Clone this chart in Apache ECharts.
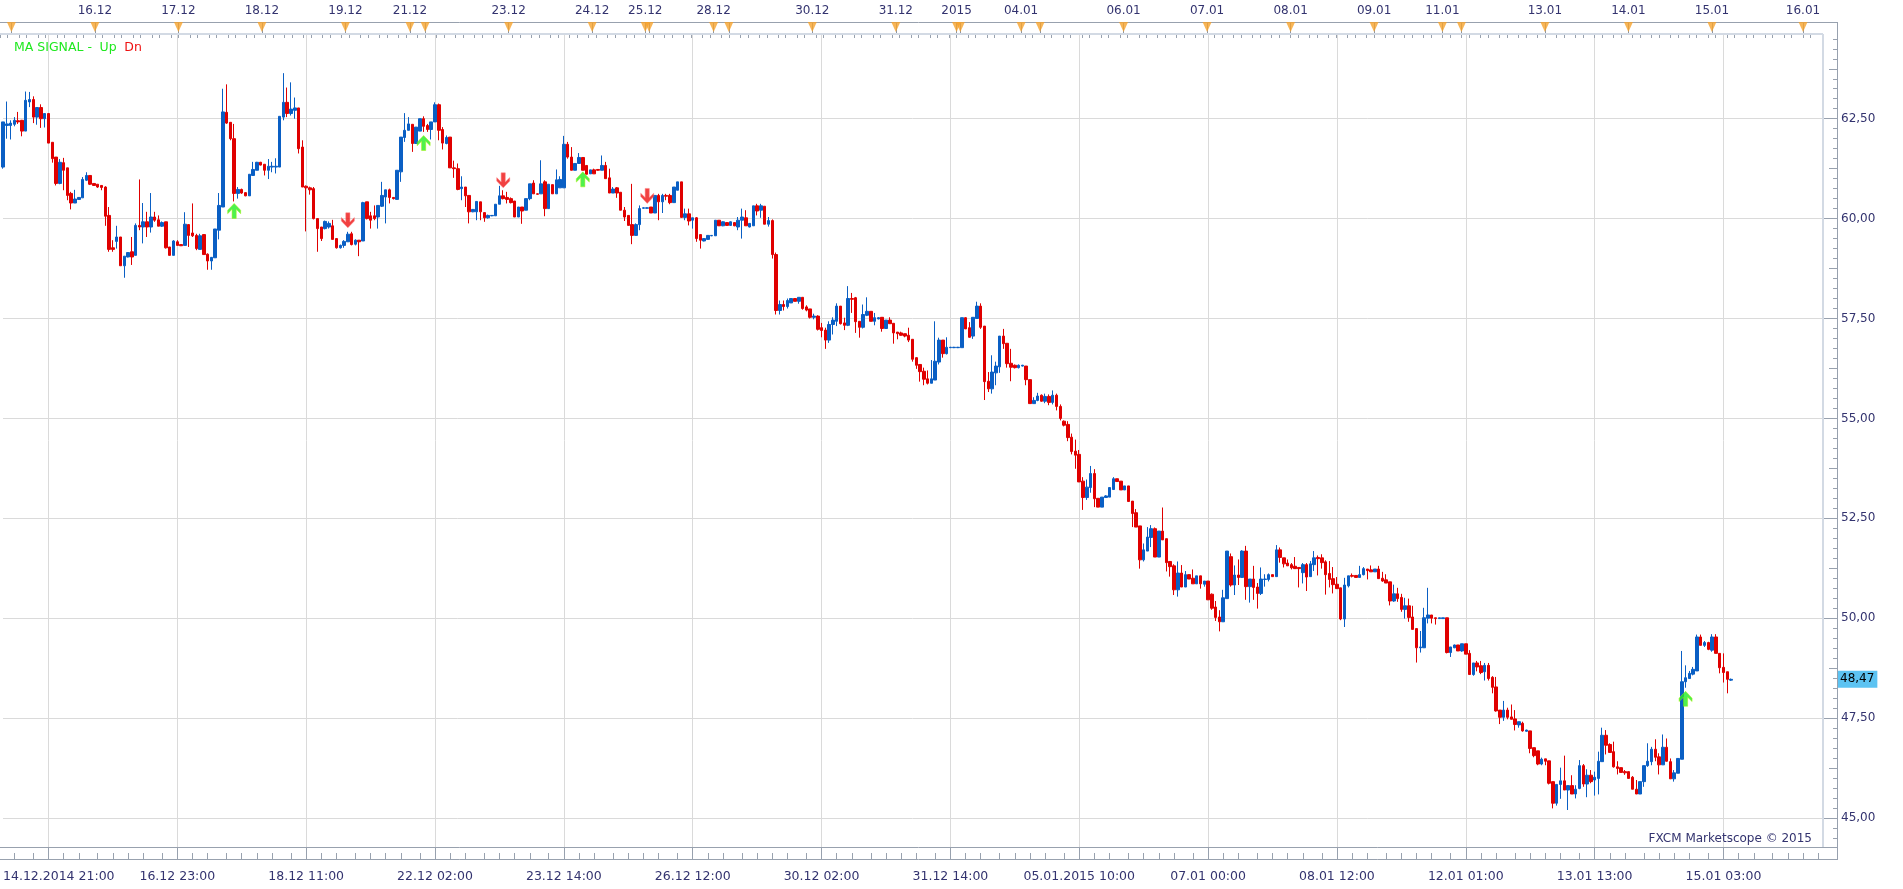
<!DOCTYPE html>
<html><head><meta charset="utf-8">
<script src="https://cdn.jsdelivr.net/npm/echarts@6/dist/echarts.min.js"></script>
<style>html,body{margin:0;padding:0;background:#fff;}#c{width:1903px;height:889px;}</style>
</head><body><div id="c"></div>
<script>
// ---- hourly bars ----
const OPEN = [
61.29,62.33,62.33,62.36,62.45,62.46,62.19,62.92,62.98,62.54,
62.78,62.5,62.63,61.91,61.54,60.88,61.40,61.27,60.63,60.39,
60.48,60.52,60.96,61.08,60.88,60.86,60.83,60.79,60.08,59.27,
59.43,59.54,58.82,59.04,59.17,59.08,59.83,59.79,59.92,59.79,
60.04,59.97,59.81,59.92,59.29,59.08,59.42,59.35,59.33,59.85,
59.64,59.58,59.23,59.6,59.11,58.94,59.02,59.71,60.29,62.66,
62.41,62.0,60.63,60.73,60.65,60.57,61.08,61.21,61.41,61.36,
61.21,61.29,61.29,61.29,62.54,62.91,62.63,62.71,62.77,61.79,
60.81,60.77,60.75,60.0,59.79,59.75,59.79,59.82,59.5,59.27,
59.33,59.42,59.62,59.36,59.46,59.44,60.42,60.07,60.07,60.04,
60.31,60.54,60.72,60.53,60.48,61.17,62.03,62.21,62.36,61.88,
62.19,62.5,62.33,62.23,62.42,62.85,62.23,61.88,62.04,61.27,
61.25,60.75,60.79,60.58,60.17,60.17,60.42,60.15,60.02,60.07,
60.07,60.36,60.57,60.53,60.5,60.44,60.04,60.29,60.21,60.5,
60.89,60.62,60.62,60.92,60.25,60.85,60.62,60.77,60.77,61.86,
61.54,61.21,61.38,61.53,61.33,61.12,61.22,61.23,61.21,61.33,
61.02,60.64,60.77,60.66,60.21,60.08,59.85,59.58,59.85,60.26,
60.26,60.29,60.14,60.58,60.42,60.58,60.58,60.4,60.71,60.92,
60.03,60.12,59.96,60.02,59.6,59.44,59.48,59.57,59.57,59.96,
59.82,59.9,59.83,59.9,59.79,59.96,60.02,59.79,59.82,60.32,
60.21,60.31,59.86,59.95,59.1,57.7,57.85,57.8,57.89,58.0,
57.93,58.03,57.79,57.74,57.53,57.56,57.27,57.21,56.96,57.35,
57.43,57.81,57.39,57.33,58.0,58.02,57.43,57.28,57.58,57.68,
57.43,57.49,57.53,57.25,57.46,57.38,57.16,57.14,57.12,57.08,
56.98,56.52,56.35,56.18,55.99,55.88,55.96,56.41,56.96,56.62,
56.77,56.77,56.77,56.77,57.52,57.27,57.06,57.5,57.81,57.31,
55.93,55.74,56.14,56.29,57.06,56.88,56.38,56.33,56.27,56.31,
56.31,55.97,55.37,55.45,55.58,55.43,55.55,55.4,55.58,55.3,
54.93,54.85,54.53,54.18,54.1,53.43,53.02,53.27,53.62,53.0,
52.78,53.02,53.03,53.22,53.49,53.43,53.21,53.31,52.93,52.64,
52.31,51.46,51.68,52.02,52.24,51.53,52.18,51.99,51.42,51.31,
50.71,51.13,50.78,51.09,51.0,50.86,51.06,50.85,50.93,50.6,
50.28,50.03,49.91,50.49,51.54,50.83,51.08,51.02,51.68,50.79,
50.98,50.78,50.62,50.97,50.97,51.09,51.04,51.71,51.51,51.38,
51.34,51.30,51.27,51.14,51.34,51.04,51.34,51.52,51.51,51.41,
51.12,50.99,50.85,50.76,49.98,50.81,51.07,51.07,51.02,51.09,
51.23,51.21,51.16,51.23,51.0,50.96,50.91,50.43,50.61,50.52,
50.22,50.31,50.03,49.74,49.26,49.26,50.0,50.08,50.01,49.99,
49.99,50.01,49.14,49.26,49.33,49.18,49.36,49.12,48.59,48.88,
48.81,48.66,48.82,48.52,48.28,47.7,47.52,47.7,47.53,47.48,
47.33,47.37,47.17,47.18,46.76,46.68,46.35,46.48,46.43,45.91,
45.37,45.84,45.93,45.7,45.81,45.6,45.74,46.31,45.85,46.07,
45.95,45.99,46.41,47.07,46.84,46.66,46.28,46.26,46.16,46.16,
46.02,45.72,45.6,45.91,46.31,46.41,46.72,46.53,46.33,46.77,
46.41,45.98,46.12,46.47,48.41,48.49,48.6,48.68,49.53,49.32,
49.39,49.2,49.53,49.12,48.77,48.66,48.45];
const CLOSE = [
62.42,62.37,62.39,62.46,62.42,62.19,62.96,62.98,62.54,62.78,
62.5,62.63,61.89,61.5,60.88,61.41,61.21,60.58,60.39,60.49,
60.53,60.98,61.08,60.86,60.83,60.79,60.78,60.06,59.23,59.23,
59.54,58.82,59.06,59.15,59.04,59.83,59.79,59.92,59.79,60.04,
59.96,59.81,59.9,59.27,59.08,59.44,59.33,59.32,59.86,59.58,
59.57,59.25,59.57,59.10,58.94,59.03,59.74,60.33,62.67,62.39,
62.0,60.63,60.73,60.64,60.57,61.11,61.23,61.41,61.34,61.21,
61.31,61.31,61.31,62.56,62.91,62.63,62.74,62.77,61.75,60.79,
60.77,60.72,60.0,59.75,59.5,59.93,59.88,59.48,59.27,59.33,
59.43,59.61,59.35,59.46,59.42,60.40,60.0,59.96,60.0,60.33,
60.58,60.72,60.53,60.5,61.21,62.04,62.21,62.37,61.88,62.29,
62.5,62.31,62.23,62.42,62.85,62.21,61.89,62.03,61.27,61.25,
60.73,60.79,60.57,60.17,60.23,60.43,60.17,60.02,60.08,60.08,
60.36,60.57,60.5,60.48,60.4,60.04,60.29,60.19,60.5,60.87,
60.62,60.61,60.87,60.25,60.86,60.62,60.97,60.98,61.86,61.54,
61.21,61.38,61.53,61.21,61.11,61.22,61.12,61.21,61.33,61.0,
60.64,60.74,60.64,60.21,60.04,59.83,59.58,59.85,60.25,60.27,
60.27,60.14,60.58,60.42,60.58,60.56,60.4,60.79,60.92,60.03,
60.12,59.94,60.02,59.5,59.46,59.5,59.58,59.58,59.96,59.82,
59.92,59.83,59.92,59.82,59.96,60.04,59.82,59.88,60.32,60.19,
60.32,59.86,59.95,59.1,57.7,57.85,57.8,57.95,58.0,57.93,
58.03,57.75,57.71,57.53,57.56,57.23,57.2,56.96,57.35,57.46,
57.81,57.37,57.33,58.0,57.98,57.42,57.28,57.6,57.68,57.43,
57.52,57.52,57.25,57.46,57.37,57.14,57.12,57.08,57.06,56.96,
56.48,56.33,56.17,55.98,55.88,55.99,56.43,56.96,56.62,56.78,
56.78,56.78,56.78,57.52,57.24,57.03,57.53,57.81,57.28,55.92,
55.74,56.16,56.31,57.06,56.87,56.37,56.28,56.27,56.33,56.33,
55.97,55.37,55.45,55.56,55.43,55.55,55.4,55.58,55.3,55.0,
54.83,54.52,54.17,54.08,53.41,53.02,53.28,53.62,52.99,52.78,
53.03,53.06,53.27,53.49,53.42,53.21,53.31,52.92,52.62,52.28,
51.46,51.71,52.03,52.24,51.53,52.18,51.96,51.39,51.29,50.71,
51.13,50.78,51.09,50.98,50.86,51.06,50.86,50.93,50.46,50.25,
50.02,49.91,50.51,51.68,50.83,51.08,51.02,51.68,50.79,50.98,
50.77,50.62,50.98,50.98,51.09,51.04,51.71,51.52,51.36,51.31,
51.26,51.24,51.24,51.34,51.03,51.36,51.51,51.49,51.39,51.09,
50.97,50.84,50.74,49.98,50.83,51.06,51.05,51.02,51.09,51.24,
51.19,51.16,51.23,50.99,50.93,50.88,50.43,50.61,50.49,50.22,
50.31,50.02,49.72,49.26,49.28,50.01,50.08,50.0,49.99,50.01,
50.01,49.14,49.28,49.33,49.18,49.36,49.1,48.59,48.88,48.78,
48.64,48.82,48.49,48.27,47.68,47.52,47.7,47.52,47.47,47.34,
47.41,47.18,47.2,46.74,46.56,46.35,46.47,46.42,45.87,45.37,
45.84,45.93,45.7,45.81,45.6,45.72,46.31,45.85,46.07,45.91,
46.02,46.42,47.07,46.82,46.64,46.28,46.24,46.14,46.13,45.99,
45.72,45.6,45.91,46.31,46.42,46.72,46.52,46.33,46.77,46.42,
45.98,46.13,46.49,48.41,48.51,48.62,48.72,49.53,49.32,49.39,
49.22,49.53,49.12,48.76,48.64,48.47,48.47];
const LOW = [
61.25,62.0,61.98,62.31,62.37,62.06,62.19,62.79,62.39,62.35,
62.27,62.28,61.89,61.40,60.83,60.86,60.71,60.46,60.23,60.39,
60.47,60.52,60.94,60.84,60.82,60.77,60.71,59.82,59.17,59.17,
59.25,58.82,58.52,59.03,58.84,59.08,59.71,59.38,59.54,59.65,
59.92,59.81,59.79,59.25,59.08,59.08,59.33,59.32,59.33,59.29,
59.54,59.21,59.23,59.10,58.72,58.72,59.02,59.48,60.29,62.37,
61.96,60.43,60.5,60.62,60.56,60.57,61.07,61.21,61.33,61.08,
60.99,61.16,61.13,61.29,62.46,62.54,62.58,62.5,61.63,60.79,
59.68,60.6,59.98,59.17,59.44,59.73,59.75,59.48,59.25,59.25,
59.27,59.42,59.33,59.33,59.06,59.44,59.98,59.75,59.96,59.75,
60.29,59.88,60.38,60.48,60.48,60.92,61.92,62.21,61.67,61.88,
62.19,62.17,62.17,61.98,62.42,61.96,61.73,61.86,61.27,61.02,
60.71,60.46,60.29,59.88,60.16,59.96,59.96,59.92,60.0,60.06,
60.07,60.36,60.48,60.38,60.38,60.04,60.04,59.87,60.21,60.46,
60.62,60.6,60.62,60.06,60.25,60.62,60.62,60.77,60.77,61.5,
61.21,61.21,61.38,61.21,61.11,61.12,61.12,61.2,61.21,61.0,
60.64,60.64,60.52,60.21,59.94,59.83,59.36,59.58,59.71,60.25,
60.25,60.14,60.14,59.96,60.14,60.46,60.36,60.4,60.71,60.03,
59.96,59.83,59.75,59.42,59.25,59.43,59.47,59.56,59.57,59.82,
59.81,59.82,59.82,59.81,59.71,59.5,59.82,59.78,59.82,60.08,
60.02,59.86,59.8,59.0,57.6,57.6,57.7,57.75,57.89,57.93,
57.87,57.72,57.68,57.5,57.48,57.2,57.03,56.74,56.89,57.1,
57.31,57.35,57.21,57.31,57.64,57.14,57.02,57.25,57.56,57.43,
57.33,57.48,57.17,57.25,57.37,56.87,56.98,57.07,57.03,56.91,
56.42,56.24,55.92,55.83,55.85,55.88,55.96,56.35,56.52,56.6,
56.76,56.76,56.76,56.77,57.24,57.02,56.99,57.5,57.24,55.46,
55.66,55.62,55.83,56.14,56.74,56.27,55.93,56.25,56.25,56.3,
55.83,55.37,55.37,55.43,55.42,55.38,55.33,55.35,55.2,54.95,
54.8,54.43,54.1,53.74,53.41,52.71,52.96,53.14,52.78,52.78,
52.78,53.02,53.03,53.21,53.42,53.21,53.21,52.92,52.28,52.28,
51.24,51.42,51.68,51.78,51.53,51.53,51.96,51.17,51.04,50.58,
50.54,50.78,50.78,50.98,50.86,50.86,50.74,50.79,50.46,50.21,
49.93,49.67,49.91,50.49,50.79,50.58,50.83,51.02,50.46,50.39,
50.46,50.24,50.58,50.79,50.92,51.04,51.04,51.39,51.27,51.31,
51.22,51.24,50.77,50.87,50.68,51.04,51.18,51.07,51.24,50.59,
50.77,50.62,50.74,49.95,49.78,50.77,51.02,51.02,51.02,51.07,
50.97,51.16,51.16,50.99,50.91,50.88,50.32,50.41,50.41,50.16,
49.99,49.91,49.72,48.89,49.14,49.26,49.87,49.87,49.84,49.99,
49.99,49.12,49.03,49.25,49.18,49.16,49.1,48.59,48.56,48.67,
48.6,48.44,48.44,48.12,47.66,47.35,47.43,47.47,47.47,47.19,
47.26,47.16,47.16,46.62,46.52,46.32,46.32,46.32,45.84,45.24,
45.31,45.48,45.7,45.2,45.6,45.49,45.72,45.78,45.52,45.87,
45.56,45.59,46.41,46.59,46.64,46.26,46.09,46.14,46.08,45.99,
45.72,45.6,45.6,45.78,46.28,46.32,46.42,46.09,46.33,46.41,
45.98,45.91,46.12,46.47,48.26,48.49,48.57,48.68,49.32,49.28,
49.2,49.16,49.12,48.62,48.39,48.12,48.43];
const HIGH = [
62.42,62.93,62.46,62.54,62.67,62.47,63.18,63.17,63.06,62.78,
62.86,62.64,62.63,61.91,61.54,61.49,61.52,61.27,60.67,60.72,
60.54,61.04,61.16,61.08,60.88,60.86,60.83,60.81,60.29,59.46,
59.82,59.54,59.06,59.16,59.54,59.88,60.98,60.39,60.17,60.64,
60.17,60.08,59.93,59.92,59.29,59.46,59.46,59.35,60.16,59.85,
60.38,59.62,59.62,59.61,59.13,59.04,59.74,60.64,63.25,63.36,
62.41,62.37,60.79,60.75,60.66,61.11,61.42,61.42,61.42,61.36,
61.49,61.42,61.51,62.56,63.64,63.28,63.41,63.03,62.77,61.96,
60.83,60.8,60.79,60.0,59.79,59.95,59.93,59.97,59.5,59.35,
59.46,59.67,59.67,59.48,59.46,60.42,60.42,60.17,60.33,60.33,
60.92,60.72,60.75,60.54,61.21,62.04,62.64,62.54,62.36,62.29,
62.5,62.56,62.37,62.42,62.91,62.88,62.29,62.08,62.04,61.45,
61.38,61.06,60.79,60.58,60.24,60.43,60.42,60.15,60.1,60.09,
60.36,60.82,60.71,60.67,60.53,60.44,60.29,60.29,60.5,60.87,
60.96,60.63,61.46,60.96,60.86,60.85,61.23,61.06,62.07,61.92,
61.79,61.38,61.64,61.53,61.33,61.22,61.25,61.24,61.58,61.42,
61.25,60.79,60.79,60.66,60.29,60.08,60.87,59.88,60.33,60.28,
60.28,60.29,60.58,60.62,60.62,60.62,60.62,60.79,60.92,60.92,
60.25,60.25,60.02,60.04,59.6,59.51,59.59,59.59,59.96,59.96,
59.93,59.91,59.93,59.91,60.04,60.25,60.21,59.89,60.32,60.37,
60.37,60.31,60.04,59.98,59.15,57.95,57.95,58.0,58.0,58.0,
58.03,58.03,57.83,57.74,57.62,57.58,57.39,57.27,57.43,57.53,
57.88,57.81,57.52,58.31,58.14,58.04,57.43,57.85,58.03,57.68,
57.64,57.53,57.53,57.46,57.53,57.38,57.16,57.17,57.12,57.27,
56.98,56.53,56.35,56.27,56.2,56.46,57.43,57.02,56.96,57.03,
56.79,56.79,56.79,57.52,57.53,57.41,57.53,57.92,57.88,57.31,
56.16,56.58,56.42,57.06,57.24,56.88,56.74,56.35,56.35,56.34,
56.31,55.97,55.53,55.64,55.6,55.62,55.6,55.7,55.62,55.35,
54.95,54.93,54.62,54.47,54.21,53.53,53.47,53.81,53.73,53.0,
53.03,53.08,53.27,53.53,53.49,53.43,53.31,53.31,52.93,52.73,
52.31,51.87,52.28,52.33,52.27,52.18,52.77,51.99,51.43,51.35,
51.42,51.33,51.18,51.09,51.22,51.06,51.06,50.93,50.93,50.62,
50.43,50.2,50.71,51.68,51.62,51.32,51.47,51.7,51.81,50.98,
51.31,50.88,51.27,51.10,51.12,51.09,51.83,51.77,51.51,51.47,
51.38,51.53,51.27,51.38,51.38,51.43,51.68,51.57,51.6,51.45,
51.43,51.28,51.03,50.76,51.01,51.06,51.12,51.07,51.31,51.28,
51.23,51.32,51.23,51.31,51.16,51.1,50.91,50.84,50.76,50.61,
50.51,50.49,50.31,49.74,49.68,50.26,50.76,50.08,50.01,50.01,
50.01,50.01,49.28,49.34,49.33,49.36,49.36,49.2,48.88,48.93,
48.93,48.88,48.88,48.55,48.53,47.7,47.93,47.76,47.84,47.7,
47.41,47.41,47.21,47.18,46.76,46.68,46.51,46.48,46.43,45.91,
45.84,46.26,46.56,45.81,46.07,45.82,46.45,46.35,46.22,46.2,
46.16,46.66,47.26,47.2,46.87,46.91,46.42,46.26,46.2,46.16,
46.05,45.95,45.91,46.31,46.87,46.78,46.97,46.62,47.09,46.99,
46.49,46.2,46.49,49.18,48.82,48.68,48.78,49.59,49.59,49.43,
49.41,49.6,49.6,49.12,49.12,48.66,48.49];

// MA SIGNAL arrows (bar index, arrow tip price)
const upSignalBars  = [61, 111, 153, 444];
const upSignalPrice = [60.38, 62.08, 61.17, 48.17];
const dnSignalBars  = [91, 132, 170];
const dnSignalPrice = [59.77, 60.77, 60.38];

// axis texts
const bottomLabelBars = [0, 46, 80, 114, 148, 182, 216, 250, 284, 318, 352, 386, 420, 454];
const bottomLabels = ['14.12.2014 21:00','16.12 23:00','18.12 11:00','22.12 02:00','23.12 14:00','26.12 12:00',
  '30.12 02:00','31.12 14:00','05.01.2015 10:00','07.01 00:00','08.01 12:00','12.01 01:00','13.01 13:00','15.01 03:00'];
const gridBars = [12, 46, 80, 114, 148, 182, 216, 250, 284, 318, 352, 386, 420, 454];
const topDayBars = [3,25,47,69,91,108,112,134,156,170,171,188,192,214,236,252,253,269,274,296,318,340,362,380,385,407,429,451,475];
const topDayLabels = ['','16.12','17.12','18.12','19.12','21.12','','23.12','24.12','25.12','','28.12','','30.12','31.12','2015','',
  '04.01','','06.01','07.01','08.01','09.01','11.01','','13.01','14.01','15.01','16.01'];
const priceTicks = [45, 47.5, 50, 52.5, 55, 57.5, 60, 62.5];
const TOTAL_BARS = 481;

// ---- build ----
const N = Math.min(OPEN.length, CLOSE.length, LOW.length, HIGH.length);
const candles = [];
for (let i = 0; i < N; i++) candles.push([OPEN[i], CLOSE[i], LOW[i], HIGH[i]]);
const lastClose = CLOSE[N - 1];
const cats = []; for (let i = 0; i < TOTAL_BARS; i++) cats.push(String(i));
const Y_MIN = 44.274, Y_MAX = 64.62;
const minorTicks = [], midTicks = [];
for (let k = 178; k <= 258; k++) { const v = k / 4; if (v > Y_MIN && v < Y_MAX) minorTicks.push(v); }
for (let k = 0; k < priceTicks.length; k++) midTicks.push(priceTicks[k] + 1.25);
const bottomMap = {}; bottomLabelBars.forEach((b, i) => bottomMap[b] = bottomLabels[i]);
const topMap = {}; topDayBars.forEach((b, i) => topMap[b] = topDayLabels[i]);
const gridSet = new Set(gridBars), daySet = new Set(topDayBars);
const fmt = v => v.toFixed(2).replace('.', ',');
const FONT = "'DejaVu Sans', Verdana, sans-serif";
const TXT = '#33336f';
const AX = '#98a1ae';
const UP = '#0a5fc4', DN = '#e00000';
const upPath = 'path://M5,0 L10,5 L10,7.5 L6.6,4.3 L6.6,11 L3.4,11 L3.4,4.3 L0,7.5 L0,5 Z';
const dnPath = 'path://M5,11 L10,6 L10,3.5 L6.6,6.7 L6.6,0 L3.4,0 L3.4,6.7 L0,3.5 L0,6 Z';

const chart = echarts.init(document.getElementById('c'), null, {renderer: 'canvas'});
chart.setOption({
  animation: false,
  backgroundColor: '#ffffff',
  title: [
    { text: '{g|MA SIGNAL -}  {g|Up}  {r|Dn}', left: 9, top: 36,
      textStyle: { fontSize: 12, fontWeight: 'normal', fontFamily: FONT,
        rich: { g: { color: '#1fe81f', fontSize: 12.5, fontFamily: FONT }, r: { color: '#ee1010', fontSize: 12.5, fontFamily: FONT } } } },
    { text: 'FXCM Marketscope \u00A9 2015', right: 86, top: 828,
      textStyle: { fontSize: 12, fontWeight: 'normal', color: TXT, fontFamily: FONT } }
  ],
  grid: [
    { left: 0, right: 81, top: 34, bottom: 42, containLabel: false },
    { left: 0, right: 81, top: 22, height: 12, containLabel: false }
  ],
  xAxis: [
    { type: 'category', gridIndex: 0, data: cats, boundaryGap: false, position: 'bottom',
      axisLine: { show: false },
      axisTick: { show: true, length: 12, interval: (i) => gridSet.has(i), lineStyle: { color: AX } },
      splitLine: { show: true, interval: (i) => gridSet.has(i), lineStyle: { color: '#dadada', width: 1 } },
      axisLabel: { show: false } },
    { type: 'category', gridIndex: 0, data: cats, boundaryGap: false, position: 'bottom', offset: 12,
      axisLine: { show: false },
      axisTick: { show: true, inside: true, length: 6, lineStyle: { color: AX },
        interval: (i) => { const r = ((i - 12) % 34 + 34) % 34; return [0,4,8,13,17,21,25,30].indexOf(r) >= 0; } },
      axisLabel: { show: true, interval: (i) => (i in bottomMap), formatter: (v, i) => bottomMap[i] || '',
        margin: 11, color: TXT, fontSize: 12.5, fontFamily: FONT, alignMinLabel: 'left' } },
    { type: 'category', gridIndex: 1, data: cats, boundaryGap: false, position: 'top',
      axisLine: { show: false },
      axisTick: { show: true, inside: true, length: 4, lineStyle: { color: AX },
        interval: (i) => (i % 5 === 0 || i % 5 === 2) },
      splitLine: { show: true, interval: (i) => daySet.has(i), lineStyle: { color: '#8c95a3', width: 1 } },
      axisLabel: { show: true, interval: (i) => !!topMap[i], formatter: (v, i) => topMap[i] || '',
        margin: 5, color: TXT, fontSize: 12, fontFamily: FONT } }
  ],
  yAxis: [
    { type: 'value', gridIndex: 0, position: 'right', offset: 15, min: Y_MIN, max: Y_MAX,
      axisLine: { show: false }, splitLine: { show: false },
      axisTick: { show: true, inside: true, length: 4, customValues: minorTicks, lineStyle: { color: AX } },
      axisLabel: { show: true, customValues: priceTicks, margin: 4, formatter: fmt, color: TXT, fontSize: 12, fontFamily: FONT } },
    { type: 'value', gridIndex: 0, position: 'right', offset: 0, min: Y_MIN, max: Y_MAX,
      axisLine: { show: false }, axisLabel: { show: false },
      axisTick: { show: true, inside: false, length: 15, customValues: priceTicks, lineStyle: { color: AX } },
      splitLine: { show: true, lineStyle: { color: '#dadada', width: 1 } } },
    { type: 'value', gridIndex: 0, position: 'right', offset: 15, min: Y_MIN, max: Y_MAX,
      axisLine: { show: false }, splitLine: { show: false },
      axisTick: { show: true, inside: true, length: 8, customValues: midTicks, lineStyle: { color: AX } },
      axisLabel: { show: true, customValues: [lastClose], margin: 0, formatter: fmt, color: '#000',
        backgroundColor: '#5cc3f2', padding: [3, 3, 2, 3], fontSize: 12, fontFamily: FONT } },
    { type: 'value', gridIndex: 1, min: 0, max: 1, show: false }
  ],
  series: [
    { type: 'candlestick', xAxisIndex: 0, yAxisIndex: 0, data: candles, barWidth: 3,
      itemStyle: { color: UP, color0: DN, borderColor: UP, borderColor0: DN, borderColorDoji: UP, borderWidth: 1 } },
    { type: 'scatter', xAxisIndex: 0, yAxisIndex: 0, symbol: upPath, symbolSize: [13, 15], symbolOffset: [0, '50%'],
      itemStyle: { color: '#22ee22', borderColor: '#a8f000', borderWidth: 0.6 }, z: 5,
      data: upSignalBars.map((b, i) => [b, upSignalPrice[i]]) },
    { type: 'scatter', xAxisIndex: 0, yAxisIndex: 0, symbol: dnPath, symbolSize: [13, 15], symbolOffset: [0, '-50%'],
      itemStyle: { color: '#ee1111', borderColor: '#ff8080', borderWidth: 0.6 }, z: 5,
      data: dnSignalBars.map((b, i) => [b, dnSignalPrice[i]]) },
    { type: 'scatter', xAxisIndex: 2, yAxisIndex: 3, symbol: 'triangle', symbolRotate: 180, symbolSize: [9, 10],
      symbolOffset: [0, '50%'], itemStyle: { color: '#f6a32c' }, z: 5,
      data: topDayBars.map(b => [b, 1]) }
  ],
  graphic: [
    { type: 'line', z: 1, shape: { x1: 0, y1: 22.5, x2: 1837, y2: 22.5 }, style: { stroke: AX, lineWidth: 1 } },
    { type: 'line', z: 1, shape: { x1: 1837.5, y1: 22, x2: 1837.5, y2: 860 }, style: { stroke: AX, lineWidth: 1 } },
    { type: 'line', z: 1, shape: { x1: 0, y1: 34, x2: 1823, y2: 34 }, style: { stroke: '#d3dae4', lineWidth: 2 } },
    { type: 'line', z: 1, shape: { x1: 1823, y1: 34, x2: 1823, y2: 847 }, style: { stroke: '#d3dae4', lineWidth: 2 } },
    { type: 'line', z: 1, shape: { x1: 0, y1: 847.5, x2: 1837, y2: 847.5 }, style: { stroke: AX, lineWidth: 1 } },
    { type: 'line', z: 1, shape: { x1: 0, y1: 859.5, x2: 1837, y2: 859.5 }, style: { stroke: AX, lineWidth: 1 } }
  ]
});
</script></body></html>
